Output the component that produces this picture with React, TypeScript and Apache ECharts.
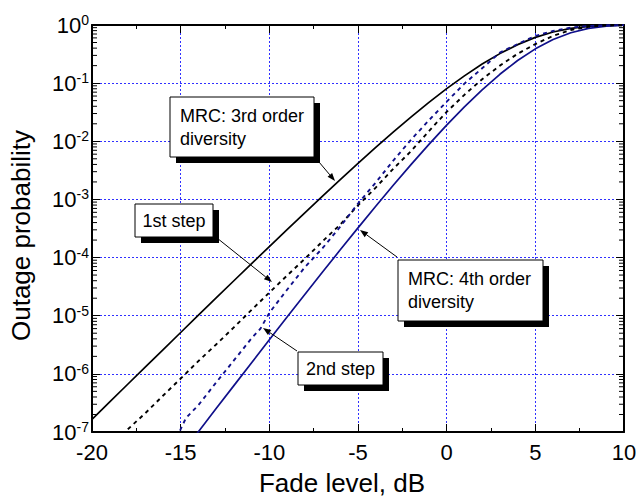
import React, { useEffect, useRef } from "react";
import * as echarts from "echarts";

// ---- data ----
const mrc3Db = [-20, -19, -18, -17, -16, -15, -14, -13, -12, -11, -10, -9, -8, -7, -6, -5, -4, -3, -2, -1, 0, 1, 2, 3, 4, 5, 6, 7, 8, 9, 10];
const mrc3 = [1.654e-7, 3.294e-7, 6.557e-7, 1.304e-6, 2.592e-6, 5.147e-6, 1.021e-5, 2.021e-5, 3.993e-5, 7.871e-5, 1.5465e-4, 3.027e-4, 5.894e-4, 1.1407e-3, 2.1905e-3, 4.166e-3, 7.825e-3, 0.014478, 0.026284, 0.046611, 0.080301, 0.13352, 0.21274, 0.32206, 0.45924, 0.61217, 0.75911, 0.87635, 0.9505, 0.98562, 0.99723];

const mrc4Db = [-15, -14, -13, -12, -11, -10, -9, -8, -7, -6, -5, -4, -3, -2, -1, 0, 1, 2, 3, 4, 5, 6, 7, 8, 9, 10];
const mrc4 = [4.062e-8, 1.014e-7, 2.526e-7, 6.279e-7, 1.5568e-6, 3.8468e-6, 9.466e-6, 2.3167e-5, 5.632e-5, 1.358e-4, 3.24e-4, 7.628e-4, 1.7667e-3, 4.008e-3, 8.864e-3, 0.018988, 0.03909, 0.07674, 0.14205, 0.24497, 0.38909, 0.56284, 0.73664, 0.87436, 0.95597, 0.98966];

const step1Db = [-18.3, -18, -17, -16, -15, -14, -13, -12, -11, -10, -9, -8, -7, -6, -5, -4, -3, -2, -1, 0, 1, 2, 3, 4, 5, 6, 7, 8, 9, 10];
const step1 = [8.9e-8, 1.1e-7, 2.1e-7, 4.2e-7, 8.3e-7, 1.66e-6, 3.2e-6, 6.3e-6, 1.26e-5, 2.5e-5, 4.9e-5, 9.5e-5, 1.9e-4, 3.7e-4, 7.9e-4, 1.6e-3, 3.4e-3, 6.8e-3, 0.015, 0.032, 0.063, 0.117, 0.2, 0.32, 0.47, 0.65, 0.82, 0.93, 0.98, 0.993];

const step2Db = [-15.2, -15, -14.7, -14, -13, -12, -11, -10.5, -10, -9, -8, -7, -6, -5, -4, -3, -2, -1, 0, 1, 2, 3, 4, 5, 6, 7, 8, 9, 10];
const step2 = [7.9e-8, 1.12e-7, 1.74e-7, 2.9e-7, 7.1e-7, 1.7e-6, 4.1e-6, 6.0e-6, 1.12e-5, 2.8e-5, 6.8e-5, 1.45e-4, 3.4e-4, 8.5e-4, 1.95e-3, 4.7e-3, 0.0107, 0.023, 0.048, 0.098, 0.18, 0.335, 0.47, 0.65, 0.79, 0.9, 0.964, 0.989, 0.9966];

const minorMantissas = [2, 3, 4, 5, 6, 7, 8, 9];
const minorDecades = [-7, -6, -5, -4, -3, -2, -1];

const FONT = "'Liberation Sans', Arial, sans-serif";
const BLUE = "#10108a";
const GRID_BLUE = "#3030ff";

function pairs(xs: number[], ys: number[]) {
  return xs.map((x, i) => [x, ys[i]]);
}

function arrow(x1: number, y1: number, x2: number, y2: number) {
  const a = Math.atan2(y2 - y1, x2 - x1);
  const L = 8, W = 3;
  const c = Math.cos(a), s = Math.sin(a);
  const bx = x2 - L * c, by = y2 - L * s;
  return [
    { type: "line", z: 100, shape: { x1, y1, x2: bx, y2: by }, style: { stroke: "#000", lineWidth: 1 } },
    {
      type: "polygon",
      z: 100,
      shape: { points: [[x2, y2], [bx - s * W, by + c * W], [bx + s * W, by - c * W]] },
      style: { fill: "#000" },
    },
  ];
}

function box(x: number, y: number, w: number, h: number, text: string, center: boolean) {
  return [
    { type: "rect", z: 100, shape: { x: x + 6, y: y + 6, width: w, height: h }, style: { fill: "#000" } },
    { type: "rect", z: 101, shape: { x, y, width: w, height: h }, style: { fill: "#fff", stroke: "#000", lineWidth: 1 } },
    {
      type: "text",
      z: 102,
      x: center ? x + w / 2 : x + 10,
      y: y + h / 2,
      style: {
        text,
        fontSize: 18,
        fontFamily: FONT,
        fill: "#000",
        lineHeight: 23,
        align: center ? "center" : "left",
        verticalAlign: "middle",
      },
    },
  ];
}

export default function App() {
  const ref = useRef<HTMLDivElement>(null);
  useEffect(() => {
    if (!ref.current) return;
    const chart = echarts.init(ref.current, null, { renderer: "svg" });
    const minorTicks: number[][] = [];
    minorDecades.forEach((d) => minorMantissas.forEach((m) => minorTicks.push([-20, m * Math.pow(10, d)])));

    const axisLine = { show: true, onZero: false, lineStyle: { color: "#000", width: 2 } };
    const lineSeries = (name: string, xs: number[], ys: number[], color: string, dashed: boolean) => ({
      type: "line",
      name,
      data: pairs(xs, ys),
      showSymbol: false,
      smooth: false,
      lineStyle: { color, width: dashed ? 1.9 : 1.7, type: dashed ? [4, 4] : "solid", join: "round" },
      z: 5,
    });
    const option: any = {
      animation: false,
      backgroundColor: "#fff",
      grid: { left: 92, right: 13, top: 25, bottom: 65, containLabel: false, outerBoundsMode: "none" },
      xAxis: [
        {
          type: "value",
          min: -20,
          max: 10,
          interval: 5,
          position: "bottom",
          name: "Fade level, dB",
          nameLocation: "middle",
          nameGap: 38,
          nameTextStyle: { fontSize: 26, fontFamily: FONT, color: "#000", padding: [0, 32, 0, 0] },
          axisLine,
          axisTick: { show: true, inside: true, length: 8, lineStyle: { color: "#000", width: 1 } },
          minorTick: { show: true, splitNumber: 2, length: 4, lineStyle: { color: "#000", width: 1 } },
          axisLabel: { fontSize: 22, fontFamily: FONT, color: "#000", margin: 9 },
          splitLine: { show: true, showMinLine: false, showMaxLine: false, lineStyle: { color: GRID_BLUE, type: [2, 2], width: 1 } },
        },
        {
          type: "value",
          min: -20,
          max: 10,
          interval: 5,
          position: "top",
          axisLine,
          axisTick: { show: true, inside: true, length: 8, lineStyle: { color: "#000", width: 1 } },
          minorTick: { show: true, splitNumber: 2, length: 4, lineStyle: { color: "#000", width: 1 } },
          axisLabel: { show: false },
          splitLine: { show: false },
        },
      ],
      yAxis: [
        {
          type: "log",
          logBase: 10,
          min: 1e-7,
          max: 1,
          position: "left",
          name: "Outage probability",
          nameLocation: "middle",
          nameGap: 58,
          nameTextStyle: { fontSize: 26, fontFamily: FONT, color: "#000", padding: [0, 14, 0, 0] },
          axisLine,
          axisTick: { show: true, inside: true, length: 8, lineStyle: { color: "#000", width: 1 } },
          axisLabel: {
            margin: 3,
            showMinLabel: true,
            showMaxLabel: true,
            formatter: (v: number) => `{b|10}{s|${Math.round(Math.log10(v))}}`,
            rich: {
              b: { fontSize: 22, fontFamily: FONT, color: "#000", lineHeight: 24 },
              s: { fontSize: 14, fontFamily: FONT, color: "#000", lineHeight: 14, verticalAlign: "top" },
            },
          },
          splitLine: { show: true, showMinLine: false, showMaxLine: false, lineStyle: { color: GRID_BLUE, type: [2, 2], width: 1 } },
        },
        {
          type: "log",
          logBase: 10,
          min: 1e-7,
          max: 1,
          position: "right",
          axisLine,
          axisTick: { show: true, inside: true, length: 8, lineStyle: { color: "#000", width: 1 } },
          axisLabel: { show: false },
          splitLine: { show: false },
        },
      ],
      series: [
        lineSeries("MRC 3rd order", mrc3Db, mrc3, "#000", false),
        lineSeries("MRC 4th order", mrc4Db, mrc4, BLUE, false),
        lineSeries("1st step", step1Db, step1, "#000", true),
        lineSeries("2nd step", step2Db, step2, BLUE, true),
        {
          type: "custom",
          name: "minor ticks",
          data: minorTicks,
          silent: true,
          clip: false,
          z: 10,
          renderItem: (params: any, api: any) => {
            const v = api.value(1);
            const pl = api.coord([-20, v]);
            const pr = api.coord([10, v]);
            return {
              type: "group",
              children: [
                { type: "line", shape: { x1: pl[0], y1: pl[1], x2: pl[0] + 5, y2: pl[1] }, style: { stroke: "#000", lineWidth: 1 } },
                { type: "line", shape: { x1: pr[0] - 5, y1: pr[1], x2: pr[0], y2: pr[1] }, style: { stroke: "#000", lineWidth: 1 } },
              ],
            };
          },
        },
      ],
      graphic: [
        ...arrow(319, 162, 335, 181),
        ...arrow(217, 238, 272, 282),
        ...arrow(297, 351, 263, 328),
        ...arrow(397, 257, 360, 230),
        ...box(170, 97, 144, 60, "MRC: 3rd order\ndiversity", false),
        ...box(135, 204, 78, 33, "1st step", true),
        ...box(298, 352, 85, 33, "2nd step", true),
        ...box(398, 260, 145, 61, "MRC: 4th order\ndiversity", false),
      ],
    };
    chart.setOption(option);
    return () => chart.dispose();
  }, []);
  return (
    <div
      ref={ref}
      style={{ position: "fixed", left: 0, top: 0, width: 637, height: 497, background: "#fff" }}
    />
  );
}
